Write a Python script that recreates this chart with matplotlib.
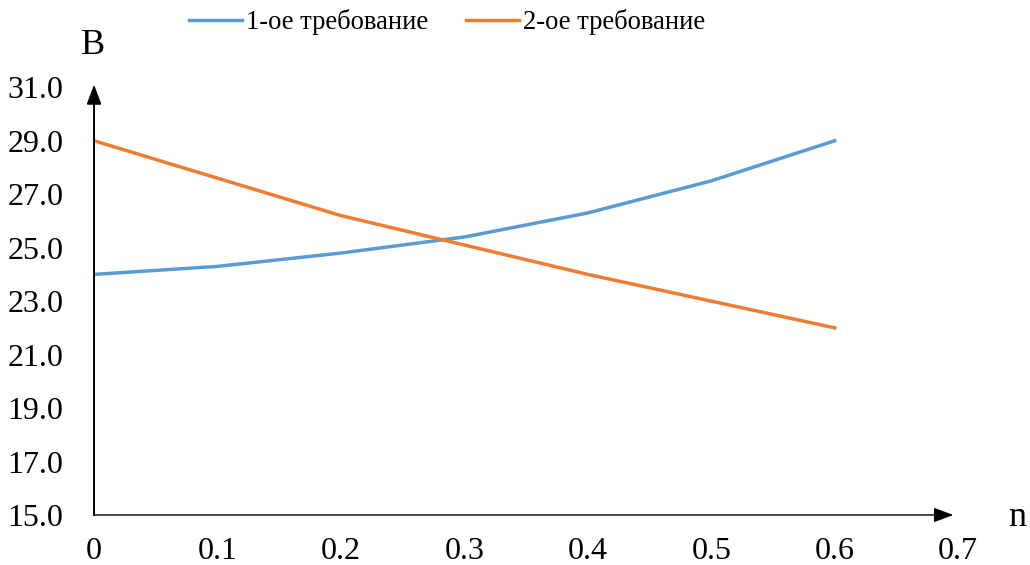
import matplotlib
matplotlib.use("Agg")
import matplotlib.pyplot as plt

plt.rcParams['font.family'] = ['Liberation Serif', 'DejaVu Serif']

n_values = [0, 0.1, 0.2, 0.3, 0.4, 0.5, 0.6]
req1 = [24.0, 24.3, 24.8, 25.4, 26.3, 27.5, 29.0]
req2 = [29.0, 27.6, 26.2, 25.1, 24.0, 23.0, 22.0]
series_names = ['1-ое требование', '2-ое требование']
x_ticks = [0, 0.1, 0.2, 0.3, 0.4, 0.5, 0.6, 0.7]
x_ticklabels = ['0', '0.1', '0.2', '0.3', '0.4', '0.5', '0.6', '0.7']
y_ticks = [15, 17, 19, 21, 23, 25, 27, 29, 31]

fig = plt.figure(figsize=(10.3, 5.65), dpi=100)
ax = fig.add_axes([0.0913, 0.0885, 0.839, 0.757])

ax.plot(n_values, req1, color='#5B9BD5', lw=2.5, label=series_names[0])
ax.plot(n_values, req2, color='#ED7D31', lw=2.5, label=series_names[1])

ax.set_xlim(0, 0.7)
ax.set_ylim(15, 31)
ax.set_xticks(x_ticks)
ax.set_xticklabels(x_ticklabels)
ax.set_yticks(y_ticks)
ax.set_yticklabels([f'{v:.1f}' for v in y_ticks])
ax.tick_params(length=0, labelsize=23, colors='black')
ax.tick_params(axis='x', pad=16)
ax.tick_params(axis='y', pad=22)
for s in ax.spines.values():
    s.set_visible(False)

# axes with arrows
ax.annotate('', xy=(0.696, 15), xytext=(0, 15),
            arrowprops=dict(arrowstyle='-|>,head_length=1.2,head_width=0.45', color='black', lw=1.0,
                            shrinkA=0, shrinkB=0), annotation_clip=False)
ax.annotate('', xy=(0, 31.1), xytext=(0, 15),
            arrowprops=dict(arrowstyle='-|>,head_length=1.2,head_width=0.45', color='black', lw=1.3,
                            shrinkA=0, shrinkB=0), annotation_clip=False)
ax.plot([0, 0], [15, 30.5], color='#404040', lw=1.3, clip_on=False)

fig.text(93/1030, 1 - 45/565, 'B', fontsize=26, ha='center', va='center')
fig.text(1017/1030, 1 - 518/565, 'n', fontsize=26, ha='center', va='center')

fig.legend(loc='center', bbox_to_anchor=(447/1030, 1 - 22/565), ncol=2, frameon=False,
           fontsize=19.2, handlelength=2.0, handletextpad=0.15, columnspacing=1.4)

fig.savefig('out.png', dpi=100)
